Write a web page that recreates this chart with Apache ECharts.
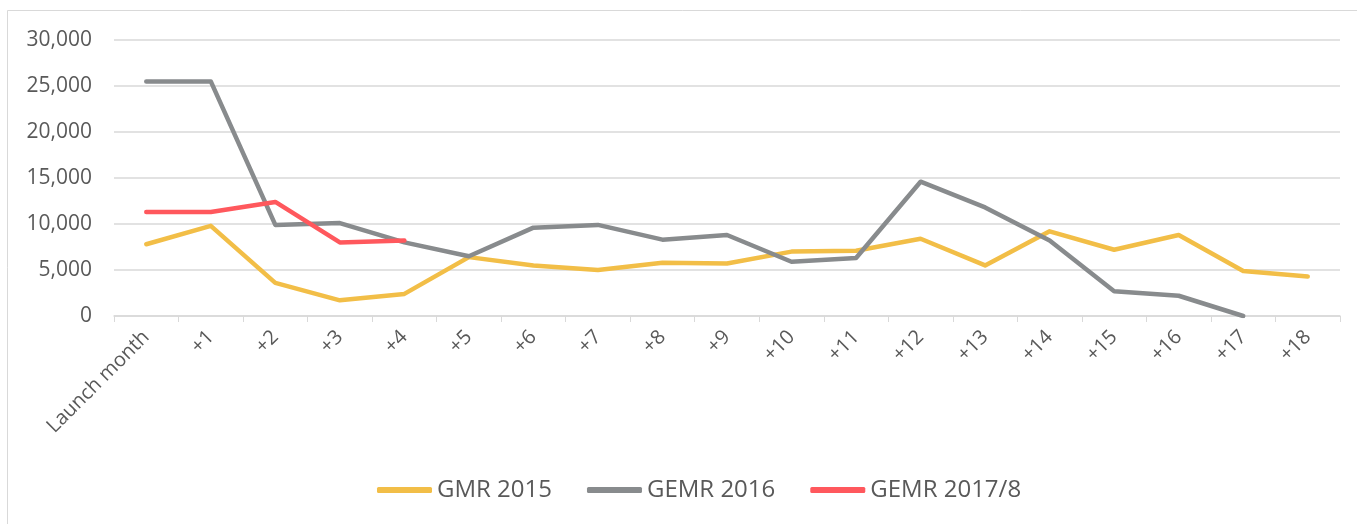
<!DOCTYPE html>
<html>
<head>
<meta charset="utf-8">
<script src="https://cdn.jsdelivr.net/npm/echarts@6/dist/echarts.min.js"></script>
<style>
html, body { margin: 0; padding: 0; background: #fff; }
#main { width: 1357px; height: 524px; }
</style>
</head>
<body>
<div id="main"></div>
<script>
var months = ['Launch month', '+1', '+2', '+3', '+4', '+5', '+6', '+7', '+8', '+9',
    '+10', '+11', '+12', '+13', '+14', '+15', '+16', '+17', '+18'];
var gmr2015 = [7800, 9800, 3600, 1700, 2400, 6400, 5500, 5000, 5800, 5700,
    7000, 7100, 8400, 5500, 9200, 7200, 8800, 4900, 4300];
var gemr2016 = [25500, 25500, 9900, 10100, 8000, 6500, 9600, 9900, 8300, 8800,
    5900, 6300, 14600, 11800, 8200, 2700, 2200, 0];
var gemr2017 = [11300, 11300, 12400, 8000, 8200];

var myChart = echarts.init(document.getElementById('main'));
var option = {
    backgroundColor: '#fff',
    animation: false,
    graphic: [{
        type: 'rect',
        shape: { x: 7.5, y: 10.5, width: 1400, height: 600 },
        style: { fill: 'none', stroke: '#d9d9d9', lineWidth: 1 },
        silent: true
    }],
    grid: { left: 114, right: 17, top: 40, bottom: 208 },
    legend: {
        bottom: 17,
        left: 372,
        itemWidth: 55,
        itemHeight: 6,
        itemGap: 35,
        icon: 'roundRect',
        textStyle: { color: '#595959', fontSize: 24, fontFamily: 'Open Sans' },
        data: ['GMR 2015', 'GEMR 2016', 'GEMR 2017/8']
    },
    xAxis: {
        type: 'category',
        data: months,
        boundaryGap: true,
        axisLine: { lineStyle: { color: '#d9d9d9', width: 1.5 } },
        axisTick: { show: true, length: 6, lineStyle: { color: '#d9d9d9' } },
        axisLabel: { rotate: 45, interval: 0, color: '#595959', fontSize: 20, margin: 18, fontFamily: 'Open Sans' }
    },
    yAxis: {
        type: 'value',
        min: 0,
        max: 30000,
        interval: 5000,
        axisLine: { show: false },
        axisTick: { show: false },
        splitLine: { lineStyle: { color: '#d9d9d9', width: 1.5 } },
        axisLabel: {
            color: '#595959', fontSize: 21, margin: 22, fontFamily: 'Open Sans',
            formatter: function (v) { return v.toLocaleString('en-US'); }
        }
    },
    series: [
        {
            name: 'GMR 2015', type: 'line', data: gmr2015,
            showSymbol: false, symbol: 'none',
            lineStyle: { color: '#F2BE47', width: 4.5, cap: 'round', join: 'round' },
            itemStyle: { color: '#F2BE47' }
        },
        {
            name: 'GEMR 2016', type: 'line', data: gemr2016,
            showSymbol: false, symbol: 'none',
            lineStyle: { color: '#888B8D', width: 4.5, cap: 'round', join: 'round' },
            itemStyle: { color: '#888B8D' }
        },
        {
            name: 'GEMR 2017/8', type: 'line', data: gemr2017,
            showSymbol: false, symbol: 'none',
            lineStyle: { color: '#FF585D', width: 4.5, cap: 'round', join: 'round' },
            itemStyle: { color: '#FF585D' }
        }
    ]
};
myChart.setOption(option);
</script>
</body>
</html>
